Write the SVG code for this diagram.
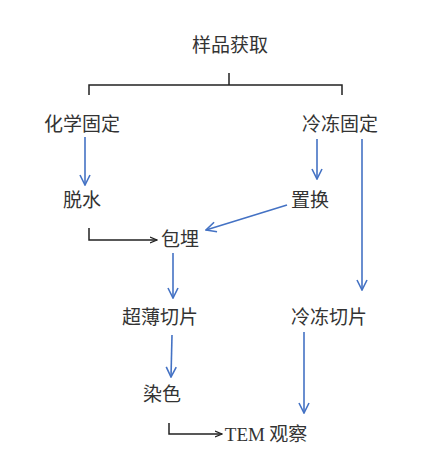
<svg xmlns="http://www.w3.org/2000/svg" width="438" height="450" viewBox="0 0 438 450">
<defs>
<style>
.t{font-family:"Noto Sans CJK SC","Noto Sans",sans-serif;font-size:19px;fill:#333;text-anchor:middle}
.tem{font-family:"Liberation Serif",serif}
.b{stroke:#4472c4;stroke-width:1.6;fill:none}
.k{stroke:#222;stroke-width:1.5;fill:none}
</style>
<marker id="ab" viewBox="0 0 12 12" refX="11" refY="6" markerWidth="12" markerHeight="12" markerUnits="userSpaceOnUse" orient="auto">
<path d="M1,1 L11,6 L1,11" fill="none" stroke="#4472c4" stroke-width="1.6"/>
</marker>
<marker id="ak" viewBox="0 0 8 8" refX="7" refY="4" markerWidth="8" markerHeight="8" markerUnits="userSpaceOnUse" orient="auto">
<path d="M0,1 L7,4 L0,7" fill="none" stroke="#222" stroke-width="1.2"/>
</marker>
</defs>
<rect width="438" height="450" fill="#fff"/>
<g id="n1"><text class="t" x="230" y="52">样品获取</text></g>
<g id="n2"><text class="t" x="82" y="131">化学固定</text></g>
<g id="n3"><text class="t" x="340" y="131">冷冻固定</text></g>
<g id="n4"><text class="t" x="82" y="207">脱水</text></g>
<g id="n5"><text class="t" x="310" y="207">置换</text></g>
<g id="n6"><text class="t" x="180" y="246">包埋</text></g>
<g id="n7"><text class="t" x="160" y="324">超薄切片</text></g>
<g id="n8"><text class="t" x="329" y="324">冷冻切片</text></g>
<g id="n9"><text class="t" x="162" y="401">染色</text></g>
<g id="n10"><text class="t" x="266" y="441"><tspan class="tem">TEM</tspan> 观察</text></g>
<g id="connectors">
<path class="k" d="M229,73 V85 M89,95 V85 H342 V95"/>
<path class="b" d="M85,137 V185" marker-end="url(#ab)"/>
<path class="b" d="M317,139 V179" marker-end="url(#ab)"/>
<path class="b" d="M362,139 V290" marker-end="url(#ab)"/>
<path class="b" d="M287,205 L206,230" marker-end="url(#ab)"/>
<path class="k" d="M89,228 V240 H157" marker-end="url(#ak)"/>
<path class="b" d="M173,253 V298" marker-end="url(#ab)"/>
<path class="b" d="M172,335 L171,377" marker-end="url(#ab)"/>
<path class="b" d="M304,332 V413" marker-end="url(#ab)"/>
<path class="k" d="M169,423 V434 H222" marker-end="url(#ak)"/>
</g>
</svg>
